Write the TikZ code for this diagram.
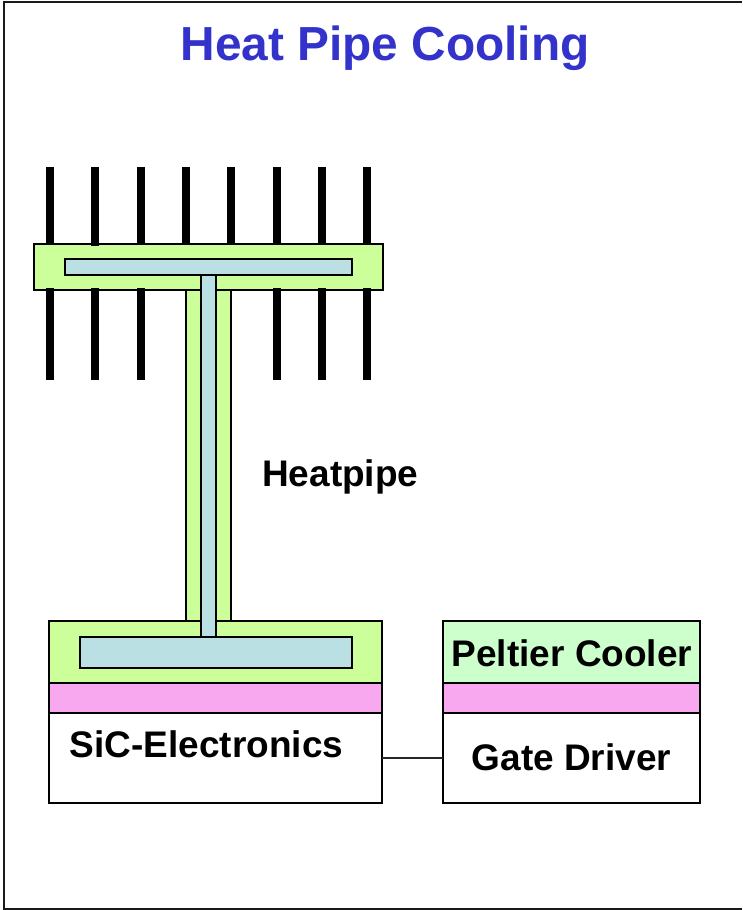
\documentclass[tikz,border=0pt]{standalone}
\usepackage{fontspec}
\setmainfont{Liberation Sans}
\definecolor{heatgreen}{HTML}{CCFF99}
\definecolor{wickblue}{HTML}{BBE0E3}
\definecolor{padpink}{HTML}{F7A8EE}
\definecolor{peltgreen}{HTML}{CCFFCC}
\definecolor{titleblue}{HTML}{3333CC}
\tikzset{
  pxbox/.style={draw=black, line width=2pt, rectangle, inner sep=0pt, outer sep=0pt, anchor=north west},
  fin/.style={fill=black, draw=none, rectangle, inner sep=0pt, outer sep=0pt, minimum width=8pt, anchor=north west},
  lbl/.style={font=\fontsize{37}{37}\selectfont\bfseries, inner sep=0pt, text=black, anchor=base west},
}
\newcommand{\pxrect}[7]{% style, name, x0, y0, x1, y1, fill
  \pgfmathsetmacro{\boxW}{#5-#3}\pgfmathsetmacro{\boxH}{#6-#4}
  \node[#1, fill=#7, minimum width=\boxW pt, minimum height=\boxH pt] (#2) at (#3,#4) {};
}
\begin{document}
\begin{tikzpicture}[x=1pt,y=-1pt]
\useasboundingbox (0,0) rectangle (742,910);
\fill[white] (0,0) rectangle (742,910);
\draw[line width=2pt,black!90] (742,1.6) -- (4,1.6) -- (4,908.6) -- (742,908.6);
\node[inner sep=0pt, anchor=base west, text=titleblue, font=\fontsize{47.8}{48}\selectfont\bfseries] (title) at (180.5,60) {Heat Pipe Cooling};
% condenser pipe wall and body
\pxrect{pxbox}{pipewall}{186}{285}{231.3}{622}{heatgreen}
\pxrect{pxbox}{topbar}{34.3}{243.5}{382.6}{289.5}{heatgreen}
\pxrect{pxbox}{topwick}{64.8}{259.2}{352.2}{274.8}{wickblue}
% fins
\foreach \n/\fx/\fb in {1/46/243.5,2/91/245.5,3/136.7/243.5,4/182/243.5,5/227/243.5,6/272.7/243.5,7/318/243.5,8/363/243.5}{
  \pgfmathsetmacro{\finH}{\fb-167}
  \node[fin, minimum height=\finH pt] (uf\n) at (\fx,167) {};
}
\foreach \n/\fx in {1/46,2/91,3/136.7,6/272.7,7/318,8/363}{
  \node[fin, minimum height=92pt] (lf\n) at (\fx,288) {};
}
% evaporator block
\pxrect{pxbox}{botblock}{49.4}{621.4}{382.3}{682.8}{heatgreen}
\pxrect{pxbox}{botwick}{80}{637.4}{352.3}{667.6}{wickblue}
\pxrect{pxbox}{pipewick}{201}{274.8}{216}{637.4}{wickblue}
\pxrect{pxbox}{botpad}{49.4}{682.8}{382.3}{713}{padpink}
\pxrect{pxbox}{sic}{49.4}{713}{382.3}{803.3}{white}
% right stack
\pxrect{pxbox}{pelt}{442.8}{621.4}{700}{682.8}{peltgreen}
\pxrect{pxbox}{rightpad}{442.8}{682.8}{700}{713}{padpink}
\pxrect{pxbox}{gate}{442.8}{713}{700}{803.3}{white}
\coordinate (sicport) at (sic.east |- 0,758);
\coordinate (gateport) at (gate.west |- 0,758);
\draw[line width=1.4pt,black!85] (sicport) -- (gateport);
% labels
\node[lbl] (heatpipe) at (262,486) {Heatpipe};
\node[lbl] (siclabel) at (69.5,757) {SiC-Electronics};
\node[lbl] (peltlabel) at (451.5,666) {Peltier Cooler};
\node[lbl] (gatelabel) at (471.5,770.5) {Gate Driver};
\end{tikzpicture}
\end{document}
